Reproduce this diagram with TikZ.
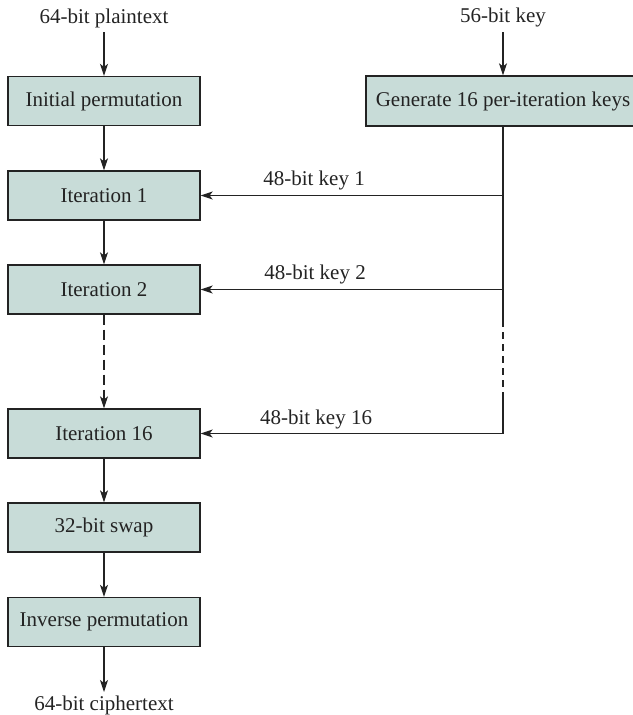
\documentclass[tikz,border=0pt]{standalone}
\usepackage{fontspec}
\setmainfont{Liberation Serif}
\usetikzlibrary{arrows.meta}
\definecolor{boxfill}{RGB}{200,220,216}
\definecolor{ink}{RGB}{35,35,35}
\begin{document}
\begin{tikzpicture}[x=1pt,y=-1pt,
  every node/.style={font=\fontsize{21}{25}\selectfont, text=ink},
  stage/.style={draw=ink, fill=boxfill, line width=1.3pt, minimum width=192pt, minimum height=49pt, inner sep=0pt},
  genbox/.style={draw=ink, fill=boxfill, line width=1.3pt, minimum width=274pt, minimum height=50pt, inner sep=0pt},
  lbl/.style={inner sep=0pt},
  conn/.style={draw=ink, line width=1.2pt},
  arr/.style={conn, -{Stealth[length=12pt,width=8pt,inset=3pt]}},
  longdash/.style={dash pattern=on 10pt off 5pt},
  shortdash/.style={dash pattern=on 7pt off 5pt}]
\useasboundingbox (0,0) rectangle (632,715);
% left column
\node[lbl] (pt) at (104,18) {64-bit plaintext};
\node[stage] (init) at (104,101) {Initial permutation};
\node[stage] (it1) at (104,195.5) {Iteration 1};
\node[stage] (it2) at (104,289.5) {Iteration 2};
\node[stage] (it16) at (104,433.5) {Iteration 16};
\node[stage] (swap) at (104,527.5) {32-bit swap};
\node[stage] (inv) at (104,622) {Inverse permutation};
\node[lbl] (ct) at (104,705) {64-bit ciphertext};
% right column
\node[lbl] (key) at (503,17) {56-bit key};
\node[genbox] (gen) at (503,101) {Generate 16 per-iteration keys};
\coordinate (dtop) at (503,322);
\coordinate (dbot) at (503,394);
% left arrows
\draw[arr] (init.north |- 0,32) -- (init.north);
\draw[arr] (init) -- (it1);
\draw[arr] (it1) -- (it2);
\draw[arr,longdash] (it2) -- (it16);
\draw[arr] (it16) -- (swap);
\draw[arr] (swap) -- (inv);
\draw[arr] (inv.south) -- (inv.south |- 0,692);
% key arrows
\draw[arr] (gen.north |- 0,32) -- (gen.north);
\draw[conn] (gen.south) -- (dtop);
\draw[conn,shortdash,dash phase=-10pt] (dtop) -- (dbot);
\draw[conn] (dbot) -- (gen.south |- it16.east);
\draw[arr] (gen.south |- it1.east) -- (it1.east);
\draw[arr] (gen.south |- it2.east) -- (it2.east);
\draw[arr] (gen.south |- it16.east) -- (it16.east);
% key labels
\node[lbl] (k1) at (314,180) {48-bit key 1};
\node[lbl] (k2) at (315,274) {48-bit key 2};
\node[lbl] (k16) at (316,419) {48-bit key 16};
\end{tikzpicture}
\end{document}
